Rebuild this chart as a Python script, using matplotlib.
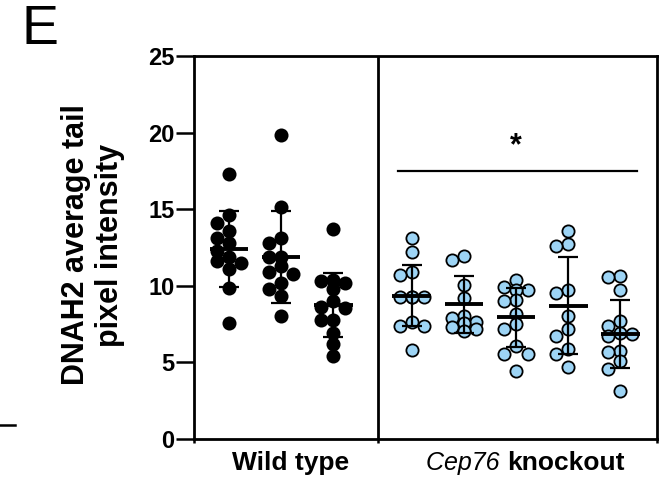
import numpy as np
import matplotlib
matplotlib.use("Agg")
import matplotlib.pyplot as plt
from matplotlib.lines import Line2D

plt.rcParams['font.family'] = ['Liberation Sans', 'DejaVu Sans']

# ---- data ----
wt1 = [17.3, 14.6, 14.1, 13.6, 13.1, 12.8, 12.3, 11.9, 11.6, 11.5, 11.1, 9.85, 7.6]
wt2 = [19.85, 15.15, 13.1, 12.8, 11.9, 11.9, 11.3, 10.9, 10.8, 10.2, 9.8, 9.35, 8.0]
wt3 = [13.7, 10.4, 10.3, 10.2, 9.8, 9.0, 8.6, 8.55, 7.8, 7.75, 6.9, 6.2, 5.4]
ko1 = [13.1, 12.2, 10.9, 10.7, 9.3, 9.3, 9.3, 9.25, 7.65, 7.4, 7.4, 5.8]
ko2 = [11.95, 11.7, 10.05, 9.2, 8.05, 7.9, 7.65, 7.6, 7.3, 7.2, 7.05]
ko3 = [10.4, 9.9, 9.7, 9.7, 9.1, 9.0, 8.15, 7.5, 7.2, 6.1, 5.55, 5.55, 4.45]
ko4 = [13.6, 12.7, 12.6, 9.7, 9.55, 8.05, 7.2, 6.75, 5.9, 5.55, 4.7]
ko5 = [10.65, 10.55, 9.7, 7.7, 7.4, 6.95, 6.85, 6.75, 5.75, 5.65, 5.1, 4.55, 3.15]

wt_groups = [wt1, wt2, wt3]
ko_groups = [ko1, ko2, ko3, ko4, ko5]
wt_means = [12.4, 11.9, 8.75]
wt_sds = [2.45, 3.0, 2.1]
ko_means = [9.35, 8.8, 7.95, 8.7, 6.85]
ko_sds = [1.98, 1.85, 1.93, 3.15, 2.2]

y_ticks = [0, 5, 10, 15, 20, 25]
group_labels = ["Wild type", "Cep76 knockout"]
y_label = "DNAH2 average tail\npixel intensity"
panel_letter = "E"
sig_text = "*"
sig_level = 17.5

# ---- figure ----
W, H = 659, 482
fig = plt.figure(figsize=(W/100, H/100), dpi=100)
ax = fig.add_axes([194/W, 43/H, 463/W, 383/H])

wt_pos = [0, 1, 2]
ko_pos = [3.5, 4.5, 5.5, 6.5, 7.5]
divider = 2.85
xmin, xmax = -0.67, 8.2
ax.set_xlim(xmin, xmax)
ax.set_ylim(0, 25)

px_per_x = 463 / (xmax - xmin)
px_per_y = 383 / 25.0

def swarm(vals, step_px=12.0, thr_px=9.0):
    order = np.argsort(vals)[::-1]
    cols = {0: [], -1: [], 1: []}
    offs = np.zeros(len(vals))
    for i in order:
        y = vals[i] * px_per_y
        best, best_d = None, -1
        for c in (0, -1, 1):
            d = min([abs(y - yy) for yy in cols[c]] + [1e9])
            if d >= thr_px:
                best = c
                break
            if d > best_d:
                best, best_d = c, d
        cols[best].append(y)
        offs[i] = best * step_px / px_per_x
    return offs

ms = 8.8
blue = '#9DD4F5'

def draw_group(pos, vals, mean, sd, face, edge):
    vals = np.asarray(vals)
    offs = swarm(vals)
    ax.scatter(pos + offs, vals, s=ms**2, c=face, edgecolors=edge,
               linewidths=1.3, zorder=3, clip_on=False)
    ax.plot([pos - 0.37, pos + 0.37], [mean, mean], color='black', lw=2.8,
            solid_capstyle='butt', zorder=5)
    ax.errorbar([pos], [mean], yerr=[sd], fmt='none', ecolor='black',
                elinewidth=1.6, capsize=7, capthick=1.6, zorder=4)

for p, v, m, s in zip(wt_pos, wt_groups, wt_means, wt_sds):
    draw_group(p, v, m, s, 'black', 'black')
for p, v, m, s in zip(ko_pos, ko_groups, ko_means, ko_sds):
    draw_group(p, v, m, s, blue, 'black')

# divider
ax.axvline(divider, color='black', lw=2.0, zorder=2)

# significance line and star
ax.plot([3.24, 7.82], [sig_level, sig_level], color='black', lw=1.6)
ax.text(5.5, sig_level + 0.6, sig_text, ha='center', va='bottom',
        fontsize=22, fontweight='bold')

# spines & ticks
for sp in ax.spines.values():
    sp.set_linewidth(2.0)
ax.set_yticks(y_ticks)
ax.set_yticklabels([str(t) for t in y_ticks], fontweight='bold', fontsize=17)
ax.tick_params(axis='y', length=13, width=1.8, pad=1)
ax.set_xticks([xmin, divider, xmax])
ax.set_xticklabels(['', '', ''])
ax.tick_params(axis='x', length=3, width=1.8)

# y label
fig.text(93/W, 1 - 245/H, y_label, rotation=90, ha='center', va='center',
         fontsize=22, fontweight='bold', linespacing=1.2, multialignment='center')

# x group labels
fs_x = 19
base_y = 1 - 470/H
fig.text(291/W, base_y, group_labels[0], ha='center', va='baseline',
         fontsize=fs_x, fontweight='bold')
italic_part, bold_part = group_labels[1].split(' ', 1)
split_x = 507/W
fig.text(split_x, base_y, italic_part + ' ', ha='right', va='baseline',
         fontsize=18, fontstyle='italic')
fig.text(split_x, base_y, bold_part, ha='left', va='baseline',
         fontsize=fs_x, fontweight='bold')

# panel letter
fig.text(21/W, 1 - 30/H, panel_letter, fontsize=40, ha='left', va='center')

# stray dash from neighbouring panel
fig.add_artist(Line2D([0, 15/W], [1 - 425/H, 1 - 425/H],
                      color='black', lw=1.8, transform=fig.transFigure))

fig.savefig('out.png', dpi=100)
